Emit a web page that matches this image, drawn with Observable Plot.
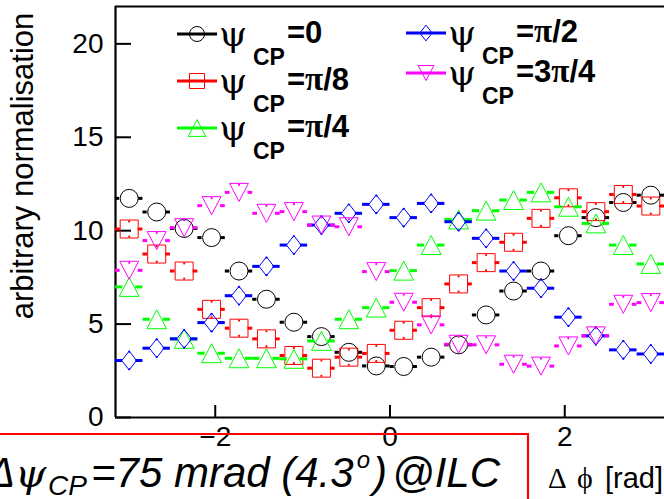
<!DOCTYPE html>
<html><head><meta charset="utf-8">
<script src="https://cdn.jsdelivr.net/npm/d3@7"></script>
<script src="https://cdn.jsdelivr.net/npm/@observablehq/plot@0.6"></script>
<style>
body{margin:0;background:#fff;}
#chart{position:relative;width:664px;height:499px;overflow:hidden;background:#fff}
#chart svg{overflow:hidden}
</style>
</head><body><div id="chart"></div>
<script>
// ---- data ----
const phiCenters = [-2.985, -2.670, -2.356, -2.042, -1.728, -1.414, -1.100, -0.785, -0.471, -0.157,
                     0.157,  0.471,  0.785,  1.100,  1.414,  1.728,  2.042,  2.356,  2.670,  2.985];
const psi0    = [11.73, 11.00, 10.12, 9.63, 7.84, 6.33, 5.10, 4.33, 3.49, 2.76, 2.73, 3.23, 3.89, 5.49, 6.77, 7.84, 9.73, 10.70, 11.51, 11.90];
const psiPi8  = [10.09, 8.75, 7.84, 5.79, 4.78, 4.21, 3.32, 2.64, 3.23, 3.43, 4.67, 5.88, 7.15, 8.29, 9.38, 10.66, 11.76, 11.02, 11.94, 11.32];
const psiPi4  = [6.99, 5.26, 4.21, 3.44, 3.17, 3.17, 3.14, 4.10, 5.26, 5.88, 7.86, 9.23, 10.60, 11.07, 11.64, 12.05, 11.28, 10.39, 9.23, 8.22];
const psiPi2  = [3.05, 3.71, 4.21, 5.08, 6.52, 8.09, 9.23, 10.30, 10.93, 11.41, 10.70, 11.46, 10.48, 9.59, 7.84, 6.92, 5.37, 4.37, 3.62, 3.40];
const psi3Pi4 = [7.88, 9.47, 10.16, 11.34, 12.05, 10.93, 11.02, 10.30, 10.21, 7.81, 6.17, 4.96, 3.92, 3.89, 2.85, 2.75, 3.83, 4.37, 6.06, 6.15];

const legendValues = ["0", "π/8", "π/4", "π/2", "3π/4"];
const seriesColors = ["#000000", "#ff0000", "#00ff00", "#0000ff", "#ff00ff"];
const yTicks = [0, 5, 10, 15, 20];
const xTicks = [-2, 0, 2];
const yLabel = "arbitrary normalisation";
const xLabelParts = ["Δ", "ϕ", "[rad]"];
const noteText = {pre: "=75 mrad (4.3", deg: "o", post: ")", at: "@ILC"};

// ---- layout ----
const W = 664, H = 499;
const mL = 115, mR = 0, mT = 6, mB = 82;
const xMin = -Math.PI, xMax = Math.PI, yMin = 0, yMax = 22;
const pxPerRad = (W - mL - mR) / (xMax - xMin);
const binHalf = Math.PI / 20;
const fmt = d => d < 0 ? "\u2212" + (-d) : String(d);

// ---- custom marker symbols ----
const R = s => Math.sqrt(s / Math.PI);
const symCircle = {draw(c, s){ const r = R(s); c.moveTo(r, 0); c.arc(0, 0, r, 0, 2*Math.PI); }};
const symSquare = {draw(c, s){ const r = R(s); c.rect(-r, -r, 2*r, 2*r); }};
const symTriUp = {draw(c, s){ const r = R(s); c.moveTo(0, -1.05*r); c.lineTo(1.1*r, 1.05*r); c.lineTo(-1.1*r, 1.05*r); c.closePath(); }};
const symTriDown = {draw(c, s){ const r = R(s); c.moveTo(-1.05*r, -r); c.lineTo(1.05*r, -r); c.lineTo(0, r); c.closePath(); }};
const symDiamond = {draw(c, s){ const r = R(s); c.moveTo(0, -1.05*r); c.lineTo(0.82*r, 0); c.lineTo(0, 1.05*r); c.lineTo(-0.82*r, 0); c.closePath(); }};

const series = [
  {vals: psi0,    color: seriesColors[0], sym: symCircle,   gap: 9.5, dots: []},
  {vals: psiPi8,  color: seriesColors[1], sym: symSquare,   gap: 9,   dots: [-7.6, 7.6]},
  {vals: psiPi4,  color: seriesColors[2], sym: symTriUp,    gap: 6.5, dots: []},
  {vals: psiPi2,  color: seriesColors[3], sym: symDiamond,  gap: 6.5, dots: [-8.8, 8.8]},
  {vals: psi3Pi4, color: seriesColors[4], sym: symTriDown,  gap: 9,   dots: [-7.5]}
];

const marks = [];
marks.push(Plot.axisY({ticks: yTicks, tickSize: 16, dx: 16, fill: "none", strokeWidth: 2, label: null}));
marks.push(Plot.axisY({ticks: yTicks, tickSize: 0, tickPadding: 12, fontSize: 28, tickFormat: fmt, label: null}));
marks.push(Plot.axisX({ticks: xTicks, tickSize: 12, dy: -12, fill: "none", strokeWidth: 2, label: null}));
marks.push(Plot.axisX({ticks: xTicks, tickSize: 0, tickPadding: 9, fontSize: 28, tickFormat: fmt, label: null}));
marks.push(Plot.ruleX([xMin], {strokeWidth: 2.2}));
marks.push(Plot.ruleY([yMin], {strokeWidth: 2.2}));
marks.push(Plot.ruleY([yMax], {strokeWidth: 2}));

for (const s of series) {
  const rows = s.vals.map((v, i) => ({phi: phiCenters[i], v}));
  const g = s.gap / pxPerRad;
  marks.push(Plot.ruleY(rows, {y: "v", x1: d => d.phi - binHalf, x2: d => d.phi - g, stroke: s.color, strokeWidth: 3}));
  marks.push(Plot.ruleY(rows, {y: "v", x1: d => d.phi + g, x2: d => d.phi + binHalf, stroke: s.color, strokeWidth: 3}));
  for (const dy of s.dots) {
    marks.push(Plot.dot(rows, {x: "phi", y: "v", r: 1.1, fill: s.color, stroke: "none", dy}));
  }
  marks.push(Plot.dot(rows, {x: "phi", y: "v", r: 9, symbol: s.sym, stroke: s.color, strokeWidth: 1, fill: "none"}));
}

const svg = Plot.plot({
  width: W, height: H,
  marginLeft: mL, marginRight: mR, marginTop: mT, marginBottom: mB,
  x: {domain: [xMin, xMax]},
  y: {domain: [yMin, yMax]},
  style: {fontFamily: "Liberation Sans, Arial, sans-serif", background: "white", color: "black", overflow: "hidden"},
  marks
});
document.getElementById("chart").appendChild(svg);

// ---- legend, labels, annotation (text) ----
const root = d3.select(svg);
const sans = "Liberation Sans, Arial, sans-serif";
const serif = "Liberation Serif, Times New Roman, serif";
const greek = "DejaVu Serif, Liberation Serif, serif";

root.append("text")
  .attr("transform", "translate(33,166) rotate(-90)")
  .attr("text-anchor", "middle")
  .attr("font-family", sans).attr("font-size", 31)
  .text(yLabel);

const xl = root.append("text").attr("y", 488).attr("fill", "black").attr("text-anchor", "start");
xl.append("tspan").attr("x", 548).attr("font-family", serif).attr("font-size", 29).text(xLabelParts[0]);
xl.append("tspan").attr("x", 577).attr("font-family", serif).attr("font-size", 30).text(xLabelParts[1]);
xl.append("tspan").attr("x", 605).attr("font-family", sans).attr("font-size", 29).text(xLabelParts[2]);

const legendPos = [
  {x: 177, y: 34}, {x: 177, y: 81}, {x: 177, y: 128},
  {x: 406, y: 33}, {x: 406, y: 73}
];
const legendSize = [7.5, 7.5, 8, 7.5, 7.5];
series.forEach((s, i) => {
  const p = legendPos[i];
  const g = root.append("g").attr("text-anchor", "start");
  g.append("line").attr("x1", p.x).attr("x2", p.x + 40).attr("y1", p.y).attr("y2", p.y)
    .attr("stroke", s.color).attr("stroke-width", 3);
  g.append("path").attr("transform", `translate(${p.x + 20},${p.y})`)
    .attr("d", d3.symbol(s.sym, Math.PI * legendSize[i] ** 2)())
    .attr("fill", "none").attr("stroke", s.color).attr("stroke-width", 1);
  g.append("text").attr("x", p.x + 42).attr("y", p.y + 12)
    .attr("font-family", greek).attr("font-size", 36).text("ψ");
  g.append("text").attr("x", p.x + 76).attr("y", p.y + 31)
    .attr("font-family", sans).attr("font-weight", "bold").attr("font-size", 23).text("CP");
  const t = g.append("text").attr("x", p.x + 110).attr("y", p.y + 9)
    .attr("font-family", sans).attr("font-weight", "bold").attr("font-size", 31);
  t.append("tspan").text("=");
  const parts = legendValues[i].split("π");
  if (parts.length === 1) {
    t.append("tspan").text(parts[0]);
  } else {
    if (parts[0]) t.append("tspan").text(parts[0]);
    t.append("tspan").attr("font-family", serif).attr("font-weight", "bold").attr("font-size", 33).text("π");
    t.append("tspan").text(parts[1]);
  }
});

root.append("path").attr("d", "M-5,434 H528 V505")
  .attr("fill", "none").attr("stroke", "#ff0000").attr("stroke-width", 2.2);
const nt = root.append("text").attr("y", 487).attr("font-style", "italic").attr("fill", "black").attr("text-anchor", "start");
nt.append("tspan").attr("x", -13).attr("font-family", sans).attr("font-size", 42).text("Δ");
nt.append("tspan").attr("x", 15).attr("font-family", greek).attr("font-size", 40).text("ψ");
nt.append("tspan").attr("x", 48).attr("dy", 8).attr("font-family", sans).attr("font-size", 28).text("CP");
nt.append("tspan").attr("x", 91).attr("dy", -8).attr("font-family", sans).attr("font-size", 42).text(noteText.pre);
nt.append("tspan").attr("dx", 3).attr("dy", -19).attr("font-family", sans).attr("font-size", 24).text(noteText.deg);
nt.append("tspan").attr("dx", 3).attr("dy", 19).attr("font-family", sans).attr("font-size", 42).text(noteText.post);
nt.append("tspan").attr("dx", 5).attr("font-family", sans).attr("font-size", 42).text(noteText.at);
</script>
</body></html>
